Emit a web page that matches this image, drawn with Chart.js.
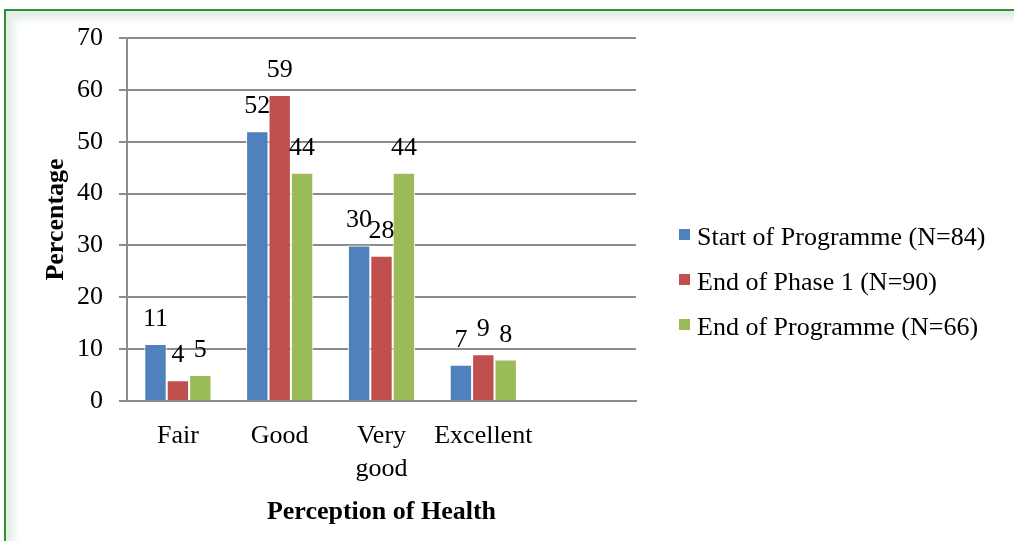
<!DOCTYPE html>
<html><head><meta charset="utf-8">
<script src="https://cdn.jsdelivr.net/npm/chart.js@4"></script>
<style>
html,body{margin:0;padding:0;background:#fff;overflow:hidden}
#wrap{position:relative;width:1014px;height:541px;overflow:hidden}
#frame{position:absolute;left:4px;top:9px;width:1100px;height:700px;border:2px solid #2f8f3a;box-shadow:inset 7px 7px 9px rgba(150,195,150,0.30);}
canvas{position:absolute;left:0;top:0}
</style></head>
<body><div id="wrap"><div id="frame"></div><canvas id="c" width="1014" height="541"></canvas></div>
<script>
const categories = ['Fair', 'Good', ['Very', 'good'], 'Excellent', ''];
const seriesNames = ['Start of Programme (N=84)', 'End of Phase 1 (N=90)', 'End of Programme (N=66)'];
const startOfProgramme = [11, 52, 30, 7, null];
const endOfPhase1 = [4, 59, 28, 9, null];
const endOfProgramme = [5, 44, 44, 8, null];
const yTicks = [0, 10, 20, 30, 40, 50, 60, 70];
const colors = ['#4f81bd', '#c0504d', '#9bbb59'];

const FONT = "'Liberation Serif','Times New Roman',serif";
const GRID = '#8c8c8c';

const valueLabels = {
  id: 'valueLabels',
  afterDatasetsDraw(chart) {
    const ctx = chart.ctx;
    ctx.save();
    ctx.font = '26px ' + FONT;
    ctx.fillStyle = '#000';
    ctx.textAlign = 'center';
    ctx.textBaseline = 'alphabetic';
    chart.data.datasets.forEach((ds, i) => {
      const meta = chart.getDatasetMeta(i);
      meta.data.forEach((el, j) => {
        const v = ds.data[j];
        if (v === null || v === undefined) return;
        ctx.fillText(String(v), el.x, el.y - 18);
      });
    });
    ctx.restore();
  }
};

const sideLegend = {
  id: 'sideLegend',
  afterDraw(chart) {
    const ctx = chart.ctx;
    ctx.save();
    ctx.font = '26px ' + FONT;
    ctx.textBaseline = 'alphabetic';
    ctx.textAlign = 'left';
    const x0 = chart.chartArea.right + 43;
    chart.data.datasets.forEach((ds, i) => {
      const base = 245 + i * 45;
      ctx.fillStyle = ds.backgroundColor;
      ctx.fillRect(x0, base - 16, 11, 11);
      ctx.fillStyle = '#000';
      ctx.fillText(ds.label, x0 + 18, base);
    });
    ctx.restore();
  }
};

const datasets = [startOfProgramme, endOfPhase1, endOfProgramme].map((d, i) => ({
  label: seriesNames[i],
  data: d,
  backgroundColor: colors[i],
  borderColor: '#ffffff',
  borderWidth: 1,
  barPercentage: 1,
  categoryPercentage: 0.66
}));

new Chart(document.getElementById('c'), {
  type: 'bar',
  data: { labels: categories, datasets },
  plugins: [valueLabels, sideLegend],
  options: {
    responsive: false,
    animation: false,
    devicePixelRatio: 1,
    layout: { padding: { top: 38, right: 378, left: 0, bottom: 0 } },
    plugins: { legend: { display: false }, tooltip: { enabled: false } },
    scales: {
      x: {
        grid: { display: false, drawTicks: false },
        border: { display: true, color: GRID, width: 2 },
        ticks: { color: '#000', font: { family: FONT, size: 26, lineHeight: 1.27 }, padding: 18.5, maxRotation: 0, autoSkip: false },
        title: { display: true, text: 'Perception of Health', color: '#000', font: { family: FONT, size: 26, weight: 'bold', lineHeight: 1.2 }, padding: { top: 13, bottom: 13 } },
        afterFit: s => { s.height = 140; }
      },
      y: {
        min: 0, max: 70,
        afterBuildTicks: s => { s.ticks = yTicks.map(v => ({ value: v })); },
        grid: { color: GRID, lineWidth: 2, drawTicks: true, tickLength: 8 },
        border: { display: true, color: GRID, width: 2 },
        ticks: { color: '#000', font: { family: FONT, size: 26 }, padding: 16 },
        title: { display: true, text: 'Percentage', color: '#000', font: { family: FONT, size: 26, weight: 'bold', lineHeight: 1.2 }, padding: { top: 41, bottom: 41 } },
        afterFit: s => { s.width = 127; }
      }
    }
  }
});
</script>
</body></html>
